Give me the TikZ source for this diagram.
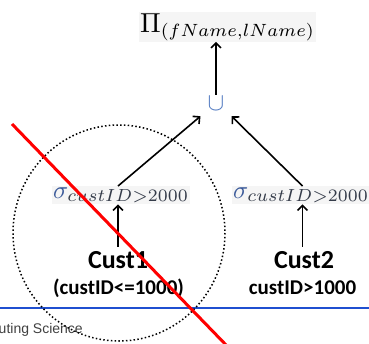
\documentclass[tikz,border=0pt]{standalone}
\usepackage{fontspec}
\usepackage{graphicx}
\newfontfamily\calibri{Carlito}
\newfontfamily\arialf{Liberation Sans}
\usetikzlibrary{arrows.meta}
\definecolor{sigblue}{HTML}{3B5A9A}
\definecolor{subgray}{HTML}{353C4A}
\definecolor{unionblue}{HTML}{4F78C0}
\definecolor{rulerblue}{HTML}{1F4FD0}
\definecolor{footgray}{HTML}{404040}
\begin{document}
\begin{tikzpicture}[x=1pt,y=-1pt,
  arr/.style={line width=1.6pt, -{Straight Barb[length=5pt,width=10pt,line width=1.6pt]}},
  mathbox/.style={fill=black!4, inner sep=1pt},
  relname/.style={font=\calibri\bfseries\fontsize{26}{30}\selectfont, inner sep=0pt},
  relcond/.style={font=\calibri\bfseries\fontsize{21}{25}\selectfont, inner sep=0pt},
]
\useasboundingbox (0,0) rectangle (369,343);
\clip (0,0) rectangle (369,343);

% query tree
\node[mathbox, anchor=base west] (proj) at (139,32)
  {\scalebox{2.75}{$\Pi_{\scalebox{0.92}{$\scriptstyle(fName,lName)$}}$}};
\node[inner sep=1pt, anchor=base] (uni) at (216,110)
  {\scalebox{2.5}{$\color{unionblue}\cup$}};
\node[mathbox, anchor=base west] (sig1) at (52,198)
  {\scalebox{2.5}{$\color{sigblue}\sigma_{\color{subgray}custID>2000}$}};
\node[mathbox, anchor=base west] (sig2) at (232,198)
  {\scalebox{2.5}{$\color{sigblue}\sigma_{\color{subgray}custID>2000}$}};

\node[relname, anchor=base] (c1) at (118,268) {Cust1};
\node[relcond, anchor=base] (c1cond) at (118.5,294) {(custID<=1000)};
\node[relname, anchor=base] (c2) at (304,268) {Cust2};
\node[relcond, anchor=base] (c2cond) at (302.5,294) {custID>1000};

\draw[arr] (uni.north) -- (proj.south -| uni.north);
\draw[arr] (sig1.north -| c1.north) -- ([xshift=-6pt,yshift=-5pt]uni.south west);
\draw[arr] (sig2.north -| c2cond.north) -- ([xshift=6pt,yshift=-5pt]uni.south east);
\draw[arr, shorten <=4pt] (c1.north) -- (sig1.south -| c1.north);
\draw[arr, shorten <=4pt] (c2cond.north |- c2.north) -- (sig2.south -| c2cond.north);

% slide footer
\coordinate (ruleL) at (0,308);
\coordinate (ruleR) at (369,308);
\draw[rulerblue, line width=1.4pt] (ruleL) -- (ruleR);
\node[font=\arialf\fontsize{14}{16}\selectfont, text=footgray, inner sep=0pt,
  anchor=base east] (foot) at (83,333) {Computing Science};

% partition that is pruned
\coordinate (ringC) at (119,233);
\draw[line width=1.5pt, dash pattern=on 1.5pt off 2.3pt]
  (ringC) ellipse [x radius=106, y radius=108];
\coordinate (crossA) at (12,124);
\coordinate (crossB) at (228,347);
\draw[red, line width=3pt] (crossA) -- (crossB);
\end{tikzpicture}
\end{document}
